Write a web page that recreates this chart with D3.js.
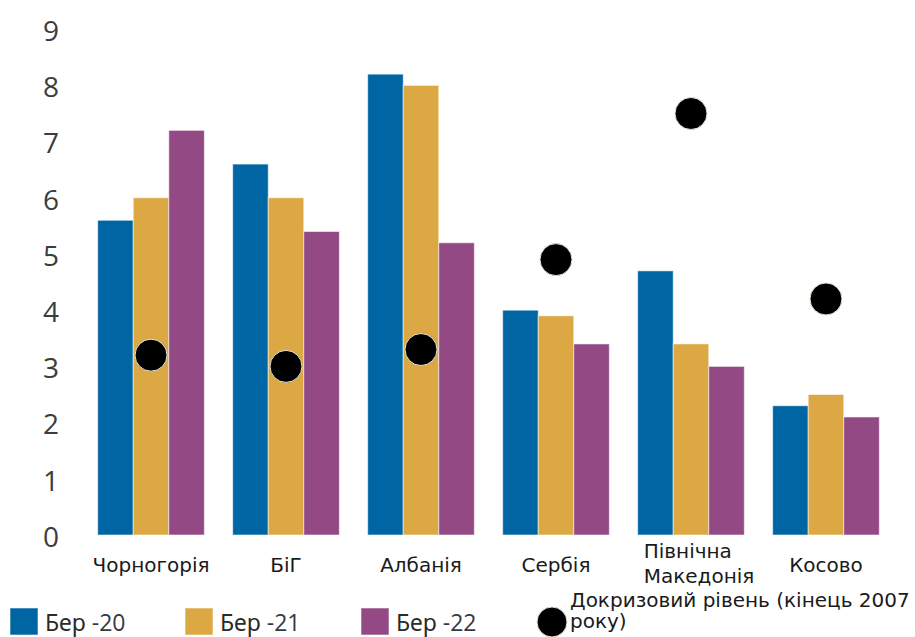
<!DOCTYPE html>
<html>
<head>
<meta charset="utf-8">
<script src="https://cdn.jsdelivr.net/npm/d3@7"></script>
<style>
  html, body { margin: 0; padding: 0; background: #fff; }
  svg { display: block; }
</style>
</head>
<body>
<svg id="chart" width="915" height="637"></svg>
<script>
// ---- data ----
const categories = ["Чорногорія", "БіГ", "Албанія", "Сербія", "Північна\nМакедонія", "Косово"];
const seriesNames = ["Бер -20", "Бер -21", "Бер -22"];
const ber20 = [5.6, 6.6, 8.2, 4.0, 4.7, 2.3];
const ber21 = [6.0, 6.0, 8.0, 3.9, 3.4, 2.5];
const ber22 = [7.2, 5.4, 5.2, 3.4, 3.0, 2.1];
const preCrisis = [3.2, 3.0, 3.3, 4.9, 7.5, 4.2];
const preCrisisName = ["Докризовий рівень (кінець 2007", "року)"];
const yTicks = [0, 1, 2, 3, 4, 5, 6, 7, 8, 9];

const colors = ["#0066a3", "#dba843", "#934a84"];
const seriesValues = [ber20, ber21, ber22];

const svg = d3.select("#chart");

const x = d3.scaleBand().domain(d3.range(categories.length)).range([97.7, 879.3]).paddingInner(0.21).paddingOuter(0);
const xs = d3.scaleBand().domain(d3.range(3)).range([0, x.bandwidth()]).padding(0);
const y = d3.scaleLinear().domain([0, 9]).range([535, 29.2]);

// y axis
const yAxis = d3.axisLeft(y).tickValues(yTicks).tickSize(0).tickPadding(0).tickFormat(d3.format("d"));
const gy = svg.append("g").attr("transform", "translate(59,0)").call(yAxis);
gy.select(".domain").remove();
gy.selectAll("text")
  .attr("font-family", "'Open Sans', sans-serif")
  .attr("font-size", 28)
  .attr("fill", "#3c3c3c")
  .attr("dy", "0.4em");

// bars
const groups = svg.append("g").selectAll("g")
  .data(categories.map((c, i) => i))
  .join("g")
  .attr("transform", i => `translate(${x(i)},0)`);

groups.selectAll("rect")
  .data(i => seriesValues.map((s, k) => ({k, v: s[i]})))
  .join("rect")
  .attr("x", d => xs(d.k))
  .attr("width", xs.bandwidth())
  .attr("y", d => y(d.v))
  .attr("height", d => y(0) - y(d.v))
  .attr("fill", d => colors[d.k])
  .attr("stroke", "rgba(255,255,255,0.55)")
  .attr("stroke-width", 1);

// pre-crisis dots
svg.append("g").selectAll("circle")
  .data(preCrisis)
  .join("circle")
  .attr("cx", (d, i) => x(i) + x.bandwidth() / 2)
  .attr("cy", d => y(d))
  .attr("r", 16)
  .attr("fill", "#000")
  .attr("stroke", "#e9e3d3")
  .attr("stroke-width", 1);

// category labels
const labels = svg.append("g").selectAll("text")
  .data(categories)
  .join("text")
  .attr("font-family", "'DejaVu Sans', sans-serif")
  .attr("font-size", 20)
  .attr("fill", "#1a1a1a");

labels.each(function(d, i) {
  const t = d3.select(this);
  const lines = d.split("\n");
  const cx = x(i) + x.bandwidth() / 2;
  if (lines.length === 1) {
    t.attr("x", cx).attr("y", 572).attr("text-anchor", "middle").text(d);
  } else {
    const spans = lines.map((ln, j) => t.append("tspan").attr("y", 558 + j * 25).text(ln));
    const widths = spans.map(s => s.node().getComputedTextLength());
    const start = cx - d3.max(widths) / 2 + 8;
    spans.forEach(s => s.attr("x", start));
  }
});

// legend
const legend = svg.append("g");
const legX = [10, 185, 361];
seriesNames.forEach((name, k) => {
  legend.append("rect")
    .attr("x", legX[k]).attr("y", 608)
    .attr("width", 28).attr("height", 27)
    .attr("fill", colors[k])
    .attr("stroke", "rgba(255,255,255,0.55)");
  const parts = name.split(" ");
  const t = legend.append("text")
    .attr("x", legX[k] + 35).attr("y", 631)
    .attr("font-size", 23)
    .attr("fill", "#2a2a2a");
  t.append("tspan").attr("font-family", "'Noto Sans', sans-serif").text(parts[0] + " ");
  t.append("tspan").attr("font-family", "'Open Sans', sans-serif").attr("fill", "#333a44").text(parts[1]);
});
legend.append("circle")
  .attr("cx", 552).attr("cy", 622).attr("r", 15)
  .attr("fill", "#000").attr("stroke", "#e9e3d3");
const lt = legend.append("text")
  .attr("font-family", "'DejaVu Sans', sans-serif")
  .attr("font-size", 20)
  .attr("fill", "#1a1a1a");
preCrisisName.forEach((ln, j) => lt.append("tspan").attr("x", 570).attr("y", 607 + j * 21).text(ln));
</script>
</body>
</html>
